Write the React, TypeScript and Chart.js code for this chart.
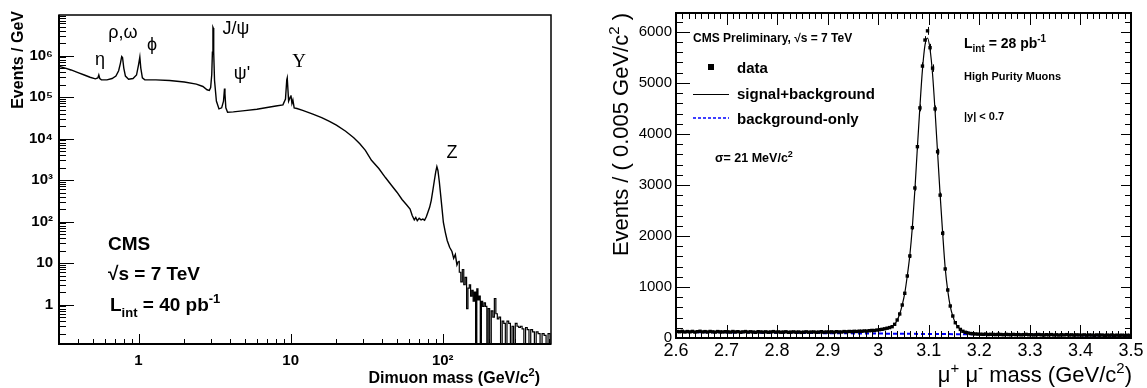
import React, { useEffect, useRef } from 'react';
import { Chart, registerables } from 'chart.js';

Chart.register(...registerables);

const SANS = '"Liberation Sans", Arial, Helvetica, sans-serif';
const SERIF = '"Liberation Serif", "Times New Roman", serif';

// ---------------- left panel: dimuon mass spectrum ----------------
const spectrumMass = [0.30, 0.33, 0.36, 0.40, 0.44, 0.48, 0.52, 0.54, 0.548, 0.556, 0.57, 0.62, 0.67, 0.71, 0.74, 0.76, 0.775, 0.785, 0.80, 0.82, 0.86, 0.92, 0.97, 1.0, 1.02, 1.035, 1.06, 1.1, 1.3, 1.6, 2.0, 2.4, 2.65, 2.82, 2.92, 2.98, 3.03, 3.06, 3.085, 3.10, 3.12, 3.16, 3.25, 3.38, 3.52, 3.62, 3.675, 3.70, 3.75, 3.85, 4.2, 5.0, 6.0, 7.0, 8.0, 8.9, 9.25, 9.43, 9.5, 9.7, 9.95, 10.05, 10.2, 10.35, 10.55, 11, 12, 14, 16, 18, 20, 23, 26, 28.5, 31, 34, 38, 42, 46, 50, 54, 58, 61, 63, 65, 66.5, 68, 70, 72, 74, 76, 78, 80, 82, 84, 86, 88, 90, 91.5, 93, 95, 97, 99, 101, 104, 107, 111, 115, 118, 121, 124, 127];
const spectrumEvents = [5.5e5, 5.0e5, 4.5e5, 3.9e5, 3.4e5, 3.0e5, 2.75e5, 2.9e5, 3.4e5, 2.8e5, 2.6e5, 2.6e5, 2.8e5, 3.2e5, 4.3e5, 6.5e5, 9.5e5, 9.0e5, 5.0e5, 3.2e5, 2.7e5, 2.8e5, 3.4e5, 6.0e5, 9.2e5, 5.0e5, 2.9e5, 2.6e5, 2.6e5, 2.5e5, 2.3e5, 2.05e5, 1.8e5, 1.5e5, 1.45e5, 1.7e5, 3.5e5, 1.2e6, 4.8e6, 4.6e6, 1.2e6, 2.5e5, 8e4, 5.2e4, 5.5e4, 8e4, 1.6e5, 1.2e5, 5.5e4, 4.3e4, 4.4e4, 4.7e4, 5.1e4, 5.6e4, 6.1e4, 6.5e4, 9e4, 2.6e5, 2.9e5, 8e4, 1.0e5, 1.1e5, 7e4, 8.5e4, 5.5e4, 5.3e4, 4.8e4, 3.9e4, 3.2e4, 2.6e4, 2.1e4, 1.5e4, 1.05e4, 7.5e3, 5.2e3, 3.0e3, 1.9e3, 1.15e3, 750, 510, 340, 250, 200, 140, 110, 125, 105, 120, 110, 115, 108, 130, 170, 220, 320, 550, 950, 1600, 2100, 1700, 900, 420, 200, 95, 55, 35, 24, 19, 13, 16, 9, 11];
const tailMass = [130, 133, 136, 139, 142, 145, 148, 151, 154, 157, 160, 163, 166, 169, 172, 175, 178, 181, 185, 189, 193, 197, 201, 206, 211, 216, 221, 226, 231, 237, 243, 249, 255, 261, 268, 275, 282, 289, 296, 304, 312, 320, 328, 337, 346, 355, 364, 374, 384, 395, 406, 417, 430, 443, 457, 471, 485, 500, 515];
const tailEvents = [6, 3.5, 7, 3, 4.5, 0.8, 2.5, 3.0, 1.6, 2.2, 1.2, 2.0, 0, 2.4, 1.3, 1.6, 0, 1.2, 0.9, 1.1, 0.9, 0, 0.8, 0, 0.7, 0.5, 1.4, 0.6, 0.45, 0.5, 0, 0.4, 0.35, 0, 0.4, 0.35, 0, 0.3, 0, 0.35, 0.3, 0.28, 0.3, 0.26, 0, 0.28, 0.25, 0, 0.25, 0.22, 0, 0.22, 0.2, 0, 0.2, 0.18, 0, 0.2, 0];

const LEFT_X_MIN = 0.3;
const LEFT_X_MAX = 515;
const LEFT_Y_MIN = 0.112;
const LEFT_Y_MAX = 9.5e6;
const leftYLabelValues = [1, 10, 100, 1000, 10000, 100000, 1000000];
const leftYLabels = ['1', '10', '10²', '10³', '10⁴', '10⁵', '10⁶'];
const leftXLabelValues = [1, 10, 100];
const leftXLabels = ['1', '10', '10²'];

// ---------------- right panel: J/psi peak ----------------
const BIN_LOW = 2.6;
const BIN_WIDTH = 0.005;
const dataEvents = [
  127, 122, 131, 118, 126, 120, 129, 116, 124, 132, 119, 125, 117, 128, 121, 115, 126, 120, 118, 123,
  121, 115, 127, 118, 124, 113, 120, 126, 116, 122, 117, 111, 124, 119, 115, 121, 113, 118, 125, 116,
  119, 113, 117, 122, 111, 116, 120, 114, 118, 110, 115, 121, 113, 117, 119, 112, 116, 123, 114, 118,
  116, 121, 115, 124, 119, 117, 126, 122, 128, 125, 131, 127, 134, 132, 138, 136, 143, 148, 146, 156,
  163, 170, 180, 192, 204, 222, 268, 353, 471, 647, 876, 1216, 1608, 2163, 2940, 3750, 4510, 5330, 5840, 6020,
  5690, 5290, 4490, 3650, 2800, 2053, 1353, 941, 627, 431, 300, 222, 168, 132, 112, 98, 88, 84, 79, 76,
  74, 71, 77, 68, 72, 70, 66, 73, 69, 64, 71, 67, 63, 70, 65, 68, 62, 66, 71, 64,
  65, 60, 64, 69, 62, 58, 65, 61, 67, 59, 63, 57, 64, 60, 66, 58, 62, 56, 61, 59,
  56, 61, 54, 59, 57, 53, 60, 55, 58, 52, 57, 54, 59, 51, 56, 53, 55, 50, 54, 52,
];
const fitMass = [2.6, 2.7, 2.8, 2.9, 2.95, 2.98, 3.0, 3.01, 3.02, 3.0275, 3.0325, 3.0375, 3.0425, 3.0475, 3.0525, 3.0575, 3.0625, 3.0675, 3.0725, 3.0775, 3.0825, 3.0875, 3.0925, 3.0975, 3.1025, 3.1075, 3.1125, 3.1175, 3.1225, 3.1275, 3.1325, 3.1375, 3.1425, 3.1475, 3.1525, 3.1575, 3.1625, 3.1675, 3.1725, 3.18, 3.19, 3.2, 3.25, 3.3, 3.4, 3.5];
const fitEvents = [124, 118, 114, 117, 125, 138, 155, 170, 192, 222, 268, 350, 470, 648, 880, 1220, 1620, 2170, 2900, 3740, 4540, 5260, 5740, 5880, 5660, 5170, 4440, 3620, 2800, 2050, 1370, 930, 620, 430, 300, 222, 166, 131, 110, 92, 82, 77, 71, 66, 57, 50];
const bgMass = [2.6, 3.5];
const bgEvents = [118, 48];

const RIGHT_X_MIN = 2.6;
const RIGHT_X_MAX = 3.5;
const RIGHT_Y_MIN = 0;
const RIGHT_Y_MAX = 6370;
const rightXLabelValues = [2.6, 2.7, 2.8, 2.9, 3.0, 3.1, 3.2, 3.3, 3.4, 3.5];
const rightXLabels = ['2.6', '2.7', '2.8', '2.9', '3', '3.1', '3.2', '3.3', '3.4', '3.5'];
const rightYLabelValues = [0, 1000, 2000, 3000, 4000, 5000, 6000];
const rightYLabels = ['0', '1000', '2000', '3000', '4000', '5000', '6000'];

// ---------------- helpers ----------------
type Tick = { value: number; major: boolean };
type Seg = { t: string; k?: 'sup' | 'sub'; f?: string };

function logTicks(min: number, max: number): Tick[] {
  const out: Tick[] = [];
  for (let e = -2; e <= 7; e++) {
    for (let k = 1; k <= 9; k++) {
      const v = k * Math.pow(10, e);
      if (v >= min * 0.999 && v <= max * 1.001) out.push({ value: v, major: k === 1 });
    }
  }
  return out;
}

function linTicks(min: number, max: number, step: number, every: number): Tick[] {
  const out: Tick[] = [];
  const n = Math.round((max - min) / step);
  for (let i = 0; i <= n; i++) {
    const v = min + i * step;
    if (v <= max + 1e-9) out.push({ value: v, major: i % every === 0 });
  }
  return out;
}

function labelFor(values: number[], labels: string[]) {
  return (v: number | string) => {
    const n = Number(v);
    for (let i = 0; i < values.length; i++) {
      if (Math.abs(n - values[i]) <= Math.abs(values[i]) * 1e-6 + 1e-6) return labels[i];
    }
    return '';
  };
}

function drawRich(
  ctx: CanvasRenderingContext2D, x: number, y: number, segs: Seg[], size: number, bold: boolean,
  align: 'left' | 'right' | 'center' = 'left', family = SANS, color = '#000'
) {
  const w = bold ? 'bold ' : '';
  const fontOf = (s: Seg) => `${w}${s.k ? Math.round(size * 0.68) : size}px ${s.f || family}`;
  ctx.save();
  ctx.fillStyle = color;
  ctx.textBaseline = 'alphabetic';
  ctx.textAlign = 'left';
  let total = 0;
  const ws = segs.map((s) => {
    ctx.font = fontOf(s);
    const m = ctx.measureText(s.t).width;
    total += m;
    return m;
  });
  let cx = align === 'right' ? x - total : align === 'center' ? x - total / 2 : x;
  segs.forEach((s, i) => {
    ctx.font = fontOf(s);
    const dy = s.k === 'sup' ? -0.42 * size : s.k === 'sub' ? 0.3 * size : 0;
    ctx.fillText(s.t, cx, y + dy);
    cx += ws[i];
  });
  ctx.restore();
}

function drawRotated(ctx: CanvasRenderingContext2D, x: number, yEnd: number, segs: Seg[], size: number, bold: boolean) {
  ctx.save();
  ctx.translate(x, yEnd);
  ctx.rotate(-Math.PI / 2);
  drawRich(ctx, 0, 0, segs, size, bold, 'right');
  ctx.restore();
}

function centered(ctx: CanvasRenderingContext2D, text: string, x: number, y: number, font: string) {
  ctx.save();
  ctx.font = font;
  ctx.fillStyle = '#000';
  ctx.textAlign = 'center';
  ctx.textBaseline = 'middle';
  ctx.fillText(text, x, y);
  ctx.restore();
}

const leftXTicks = logTicks(LEFT_X_MIN, LEFT_X_MAX);
const leftYTicks = logTicks(LEFT_Y_MIN, LEFT_Y_MAX);
const rightXTicks = linTicks(RIGHT_X_MIN, RIGHT_X_MAX, 0.0125, 8);
const rightYTicks = linTicks(0, 6200, 200, 5);

const leftDecor = {
  id: 'leftDecor',
  afterDraw(chart: any) {
    const ctx: CanvasRenderingContext2D = chart.ctx;
    const a = chart.chartArea;
    const xs = chart.scales.x;
    const ys = chart.scales.y;
    ctx.save();
    ctx.strokeStyle = '#000';
    ctx.lineWidth = 1.5;
    ctx.strokeRect(a.left, a.top, a.right - a.left, a.bottom - a.top);
    ctx.lineWidth = 2;
    ctx.beginPath();
    ctx.moveTo(a.left, a.top);
    ctx.lineTo(a.left, a.bottom);
    ctx.lineTo(a.right, a.bottom);
    ctx.stroke();
    ctx.lineWidth = 1;
    ctx.beginPath();
    leftYTicks.forEach((t) => {
      const p = Math.round(ys.getPixelForValue(t.value)) + 0.5;
      const len = t.major ? 15 : 7;
      ctx.moveTo(a.left, p);
      ctx.lineTo(a.left + len, p);
    });
    leftXTicks.forEach((t) => {
      const p = Math.round(xs.getPixelForValue(t.value)) + 0.5;
      const len = t.major ? 10 : 5;
      ctx.moveTo(p, a.bottom);
      ctx.lineTo(p, a.bottom - len);
    });
    ctx.stroke();
    ctx.restore();

    // axis titles
    drawRotated(ctx, 23, 11, [{ t: 'Events / GeV' }], 16, true);
    drawRich(ctx, 540, 383, [{ t: 'Dimuon mass (GeV/c' }, { t: '2', k: 'sup' }, { t: ')' }], 16, true, 'right');

    // resonance labels
    const f = `18px ${SANS}`;
    centered(ctx, 'η', 100, 60, f);
    centered(ctx, 'ρ,ω', 123, 33, f);
    centered(ctx, 'ϕ', 152, 45, f);
    centered(ctx, 'J/ψ', 236, 29, f);
    centered(ctx, 'ψ\'', 242, 74, f);
    centered(ctx, 'Υ', 299, 62, `19px ${SERIF}`);
    centered(ctx, 'Z', 452, 153, f);

    // CMS block
    drawRich(ctx, 108, 250, [{ t: 'CMS' }], 19, true);
    drawRich(ctx, 108, 280, [{ t: '√s = 7 TeV' }], 19, true);
    drawRich(ctx, 110, 311, [{ t: 'L' }, { t: 'int', k: 'sub' }, { t: ' = 40 pb' }, { t: '-1', k: 'sup' }], 19, true);
  },
};

const rightDecor = {
  id: 'rightDecor',
  afterDatasetsDraw(chart: any) {
    // error bars on data points
    const ctx: CanvasRenderingContext2D = chart.ctx;
    const xs = chart.scales.x;
    const ys = chart.scales.y;
    const a = chart.chartArea;
    ctx.save();
    ctx.beginPath();
    ctx.rect(a.left, a.top, a.right - a.left, a.bottom - a.top);
    ctx.clip();
    ctx.strokeStyle = '#000';
    ctx.lineWidth = 1;
    ctx.beginPath();
    dataEvents.forEach((v, i) => {
      const x = Math.round(xs.getPixelForValue(BIN_LOW + BIN_WIDTH * (i + 0.5))) + 0.5;
      const e = Math.sqrt(v);
      ctx.moveTo(x, ys.getPixelForValue(v - e));
      ctx.lineTo(x, ys.getPixelForValue(v + e));
    });
    ctx.stroke();
    ctx.restore();
  },
  afterDraw(chart: any) {
    const ctx: CanvasRenderingContext2D = chart.ctx;
    const a = chart.chartArea;
    const xs = chart.scales.x;
    const ys = chart.scales.y;
    ctx.save();
    ctx.strokeStyle = '#000';
    ctx.lineWidth = 2;
    ctx.strokeRect(a.left, a.top, a.right - a.left, a.bottom - a.top);
    ctx.lineWidth = 1;
    ctx.beginPath();
    rightYTicks.forEach((t) => {
      const p = Math.round(ys.getPixelForValue(t.value)) + 0.5;
      ctx.moveTo(a.left, p);
      ctx.lineTo(a.left + (t.major ? 14 : 7), p);
      ctx.moveTo(a.right, p);
      ctx.lineTo(a.right - (t.major ? 10 : 6), p);
    });
    rightXTicks.forEach((t) => {
      const p = Math.round(xs.getPixelForValue(t.value)) + 0.5;
      ctx.moveTo(p, a.bottom);
      ctx.lineTo(p, a.bottom - (t.major ? 13 : 7));
      ctx.moveTo(p, a.top);
      ctx.lineTo(p, a.top + (t.major ? 12 : 6));
    });
    ctx.stroke();

    // legend samples
    ctx.fillStyle = '#000';
    ctx.fillRect(135, 64, 6, 6);
    ctx.lineWidth = 1.2;
    ctx.beginPath();
    ctx.moveTo(120, 94.5);
    ctx.lineTo(156, 94.5);
    ctx.stroke();
    ctx.strokeStyle = '#0000ff';
    ctx.lineWidth = 1.5;
    ctx.setLineDash([3, 2]);
    ctx.beginPath();
    ctx.moveTo(120, 118);
    ctx.lineTo(156, 118);
    ctx.stroke();
    ctx.setLineDash([]);
    ctx.restore();

    drawRich(ctx, 120, 42, [{ t: 'CMS Preliminary, √s = 7 TeV' }], 12, true);
    drawRich(ctx, 164, 73, [{ t: 'data' }], 15, true);
    drawRich(ctx, 164, 99, [{ t: 'signal+background' }], 15, true);
    drawRich(ctx, 164, 124, [{ t: 'background-only' }], 15, true);
    drawRich(ctx, 142, 162, [{ t: 'σ= 21 MeV/c' }, { t: '2', k: 'sup' }], 12.5, true);
    drawRich(ctx, 391, 48, [{ t: 'L' }, { t: 'int', k: 'sub' }, { t: ' = 28 pb' }, { t: '-1', k: 'sup' }], 14, true);
    drawRich(ctx, 391, 80, [{ t: 'High Purity Muons' }], 11, true);
    drawRich(ctx, 391, 120, [{ t: '|y| < 0.7' }], 11, true);

    // axis titles
    drawRotated(ctx, 55, 13, [{ t: 'Events / ( 0.005 GeV/c' }, { t: '2', k: 'sup' }, { t: ' )' }], 22, false);
    drawRich(ctx, 559, 382, [{ t: 'μ' }, { t: '+', k: 'sup' }, { t: ' μ' }, { t: '-', k: 'sup' }, { t: ' mass (GeV/c' }, { t: '2', k: 'sup' }, { t: ')' }], 22, false, 'right');
  },
};

function buildLeft(canvas: HTMLCanvasElement) {
  const mainPts = spectrumMass.map((m, i) => ({ x: m, y: spectrumEvents[i] }));
  const last = mainPts[mainPts.length - 1];
  // empty bins are drawn down to the axis floor
  const tailPts = [last].concat(tailMass.map((m, i) => ({ x: m, y: tailEvents[i] > 0 ? tailEvents[i] : LEFT_Y_MIN * 0.3 })));
  return new Chart(canvas, {
    type: 'line',
    data: {
      datasets: [
        { data: mainPts, borderColor: '#000', borderWidth: 1.4, pointRadius: 0, tension: 0, fill: false },
        { data: tailPts, borderColor: '#000', borderWidth: 1.2, pointRadius: 0, stepped: 'middle', fill: false },
      ],
    } as any,
    options: {
      animation: false,
      responsive: false,
      devicePixelRatio: 1,
      events: [],
      layout: { padding: { left: 0, top: 11, right: 22, bottom: 0 } },
      plugins: { legend: { display: false }, tooltip: { enabled: false } },
      scales: {
        x: {
          type: 'logarithmic',
          min: LEFT_X_MIN,
          max: LEFT_X_MAX,
          afterBuildTicks: (s: any) => { s.ticks = leftXTicks.map((t) => ({ value: t.value })); },
          afterFit: (s: any) => { s.height = 44; },
          grid: { display: false, drawTicks: false },
          border: { display: false },
          ticks: {
            autoSkip: false, maxRotation: 0, minRotation: 0, padding: 8, color: '#000',
            font: { family: SANS, size: 15, weight: 'bold' },
            callback: labelFor(leftXLabelValues, leftXLabels),
          },
        },
        y: {
          type: 'logarithmic',
          min: LEFT_Y_MIN,
          max: LEFT_Y_MAX,
          afterBuildTicks: (s: any) => { s.ticks = leftYTicks.map((t) => ({ value: t.value })); },
          afterFit: (s: any) => { s.width = 59; },
          grid: { display: false, drawTicks: false },
          border: { display: false },
          ticks: {
            autoSkip: false, padding: 6, color: '#000',
            font: { family: SANS, size: 15, weight: 'bold' },
            callback: labelFor(leftYLabelValues, leftYLabels),
          },
        },
      },
    } as any,
    plugins: [leftDecor],
  });
}

function buildRight(canvas: HTMLCanvasElement) {
  const dataPts = dataEvents.map((v, i) => ({ x: BIN_LOW + BIN_WIDTH * (i + 0.5), y: v }));
  const fitPts = fitMass.map((m, i) => ({ x: m, y: fitEvents[i] }));
  const bgPts = bgMass.map((m, i) => ({ x: m, y: bgEvents[i] }));
  return new Chart(canvas, {
    type: 'line',
    data: {
      datasets: [
        { label: 'data', data: dataPts, showLine: false, pointStyle: 'rect', pointRadius: 2.4, pointBackgroundColor: '#000', pointBorderWidth: 0, borderColor: '#000', order: 0 },
        { label: 'background-only', data: bgPts, borderColor: '#0000ff', borderWidth: 2, borderDash: [4, 3], pointRadius: 0, fill: false, order: 1 },
        { label: 'signal+background', data: fitPts, borderColor: '#000', borderWidth: 1.2, pointRadius: 0, cubicInterpolationMode: 'monotone', fill: false, order: 2 },
      ],
    } as any,
    options: {
      animation: false,
      responsive: false,
      devicePixelRatio: 1,
      events: [],
      layout: { padding: { left: 0, top: 13, right: 16, bottom: 0 } },
      plugins: { legend: { display: false }, tooltip: { enabled: false } },
      scales: {
        x: {
          type: 'linear',
          min: RIGHT_X_MIN,
          max: RIGHT_X_MAX,
          afterBuildTicks: (s: any) => { s.ticks = rightXTicks.map((t) => ({ value: t.value })); },
          afterFit: (s: any) => { s.height = 50; },
          grid: { display: false, drawTicks: false },
          border: { display: false },
          ticks: {
            autoSkip: false, maxRotation: 0, minRotation: 0, padding: 2, color: '#000',
            font: { family: SANS, size: 18 },
            callback: labelFor(rightXLabelValues, rightXLabels),
          },
        },
        y: {
          type: 'linear',
          min: RIGHT_Y_MIN,
          max: RIGHT_Y_MAX,
          afterBuildTicks: (s: any) => { s.ticks = rightYTicks.map((t) => ({ value: t.value })); },
          afterFit: (s: any) => { s.width = 103; },
          grid: { display: false, drawTicks: false },
          border: { display: false },
          ticks: {
            autoSkip: false, padding: 4, color: '#000',
            font: { family: SANS, size: 15 },
            callback: labelFor(rightYLabelValues, rightYLabels),
          },
        },
      },
    } as any,
    plugins: [rightDecor],
  });
}

export default function App() {
  const leftRef = useRef<HTMLCanvasElement>(null);
  const rightRef = useRef<HTMLCanvasElement>(null);
  useEffect(() => {
    const l = buildLeft(leftRef.current as HTMLCanvasElement);
    const r = buildRight(rightRef.current as HTMLCanvasElement);
    return () => {
      l.destroy();
      r.destroy();
    };
  }, []);
  return (
    <div style={{ position: 'absolute', left: 0, top: 0, width: 1147, height: 388, background: '#fff' }}>
      <canvas ref={leftRef} width={573} height={388} style={{ position: 'absolute', left: 0, top: 0, width: 573, height: 388 }} />
      <canvas ref={rightRef} width={574} height={388} style={{ position: 'absolute', left: 573, top: 0, width: 574, height: 388 }} />
    </div>
  );
}
